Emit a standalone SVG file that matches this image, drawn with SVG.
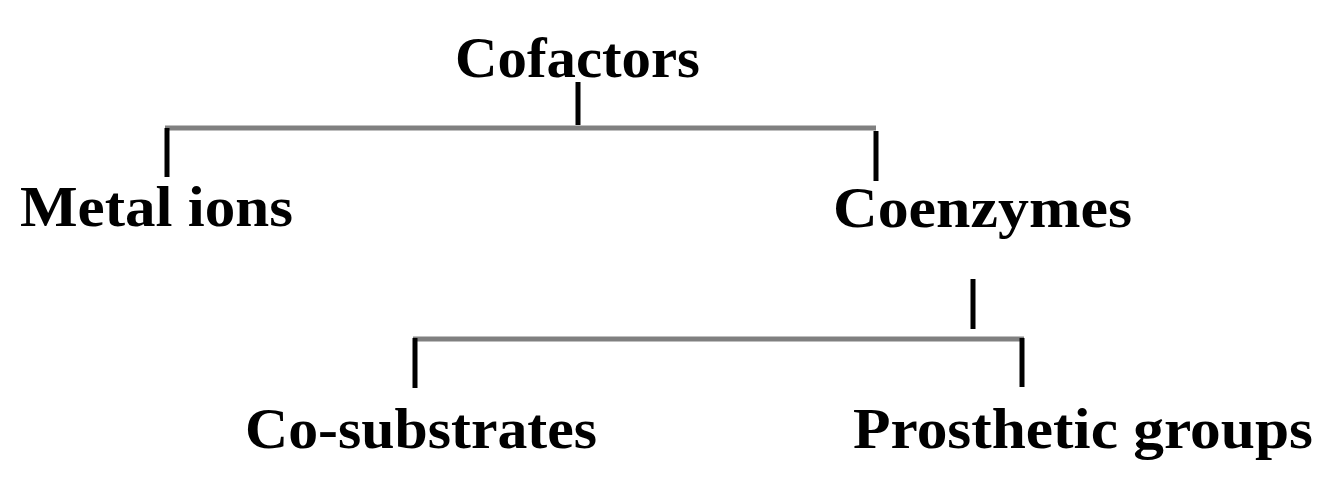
<svg xmlns="http://www.w3.org/2000/svg" width="1334" height="491" viewBox="0 0 1334 491">
<style>
.t{font-family:"Liberation Serif","Times New Roman",serif;font-weight:bold;font-size:58px;fill:#000}
.v{stroke:#000;stroke-width:5;fill:none}
.h{stroke:#808080;stroke-width:5;fill:none}
</style>
<rect width="1334" height="491" fill="#fff"/>
<g id="connectors">
<line class="v" x1="578" y1="82" x2="578" y2="125"/>
<line class="h" x1="165" y1="128" x2="876" y2="128"/>
<line class="v" x1="167" y1="128" x2="167" y2="177"/>
<line class="v" x1="876" y1="131" x2="876" y2="181"/>
<line class="v" x1="973" y1="279" x2="973" y2="329"/>
<line class="h" x1="413" y1="339" x2="1024" y2="339"/>
<line class="v" x1="415" y1="338" x2="415" y2="388"/>
<line class="v" x1="1022" y1="338" x2="1022" y2="387"/>
</g>
<g id="cofactors"><text class="t" x="455" y="77" textLength="245" lengthAdjust="spacingAndGlyphs">Cofactors</text></g>
<g id="metal-ions"><text class="t" x="20" y="226" textLength="273" lengthAdjust="spacingAndGlyphs">Metal ions</text></g>
<g id="coenzymes"><text class="t" x="833" y="227" textLength="299" lengthAdjust="spacingAndGlyphs">Coenzymes</text></g>
<g id="co-substrates"><text class="t" x="245" y="448" textLength="352" lengthAdjust="spacingAndGlyphs">Co-substrates</text></g>
<g id="prosthetic-groups"><text class="t" x="853" y="448" textLength="460" lengthAdjust="spacingAndGlyphs">Prosthetic groups</text></g>
</svg>
